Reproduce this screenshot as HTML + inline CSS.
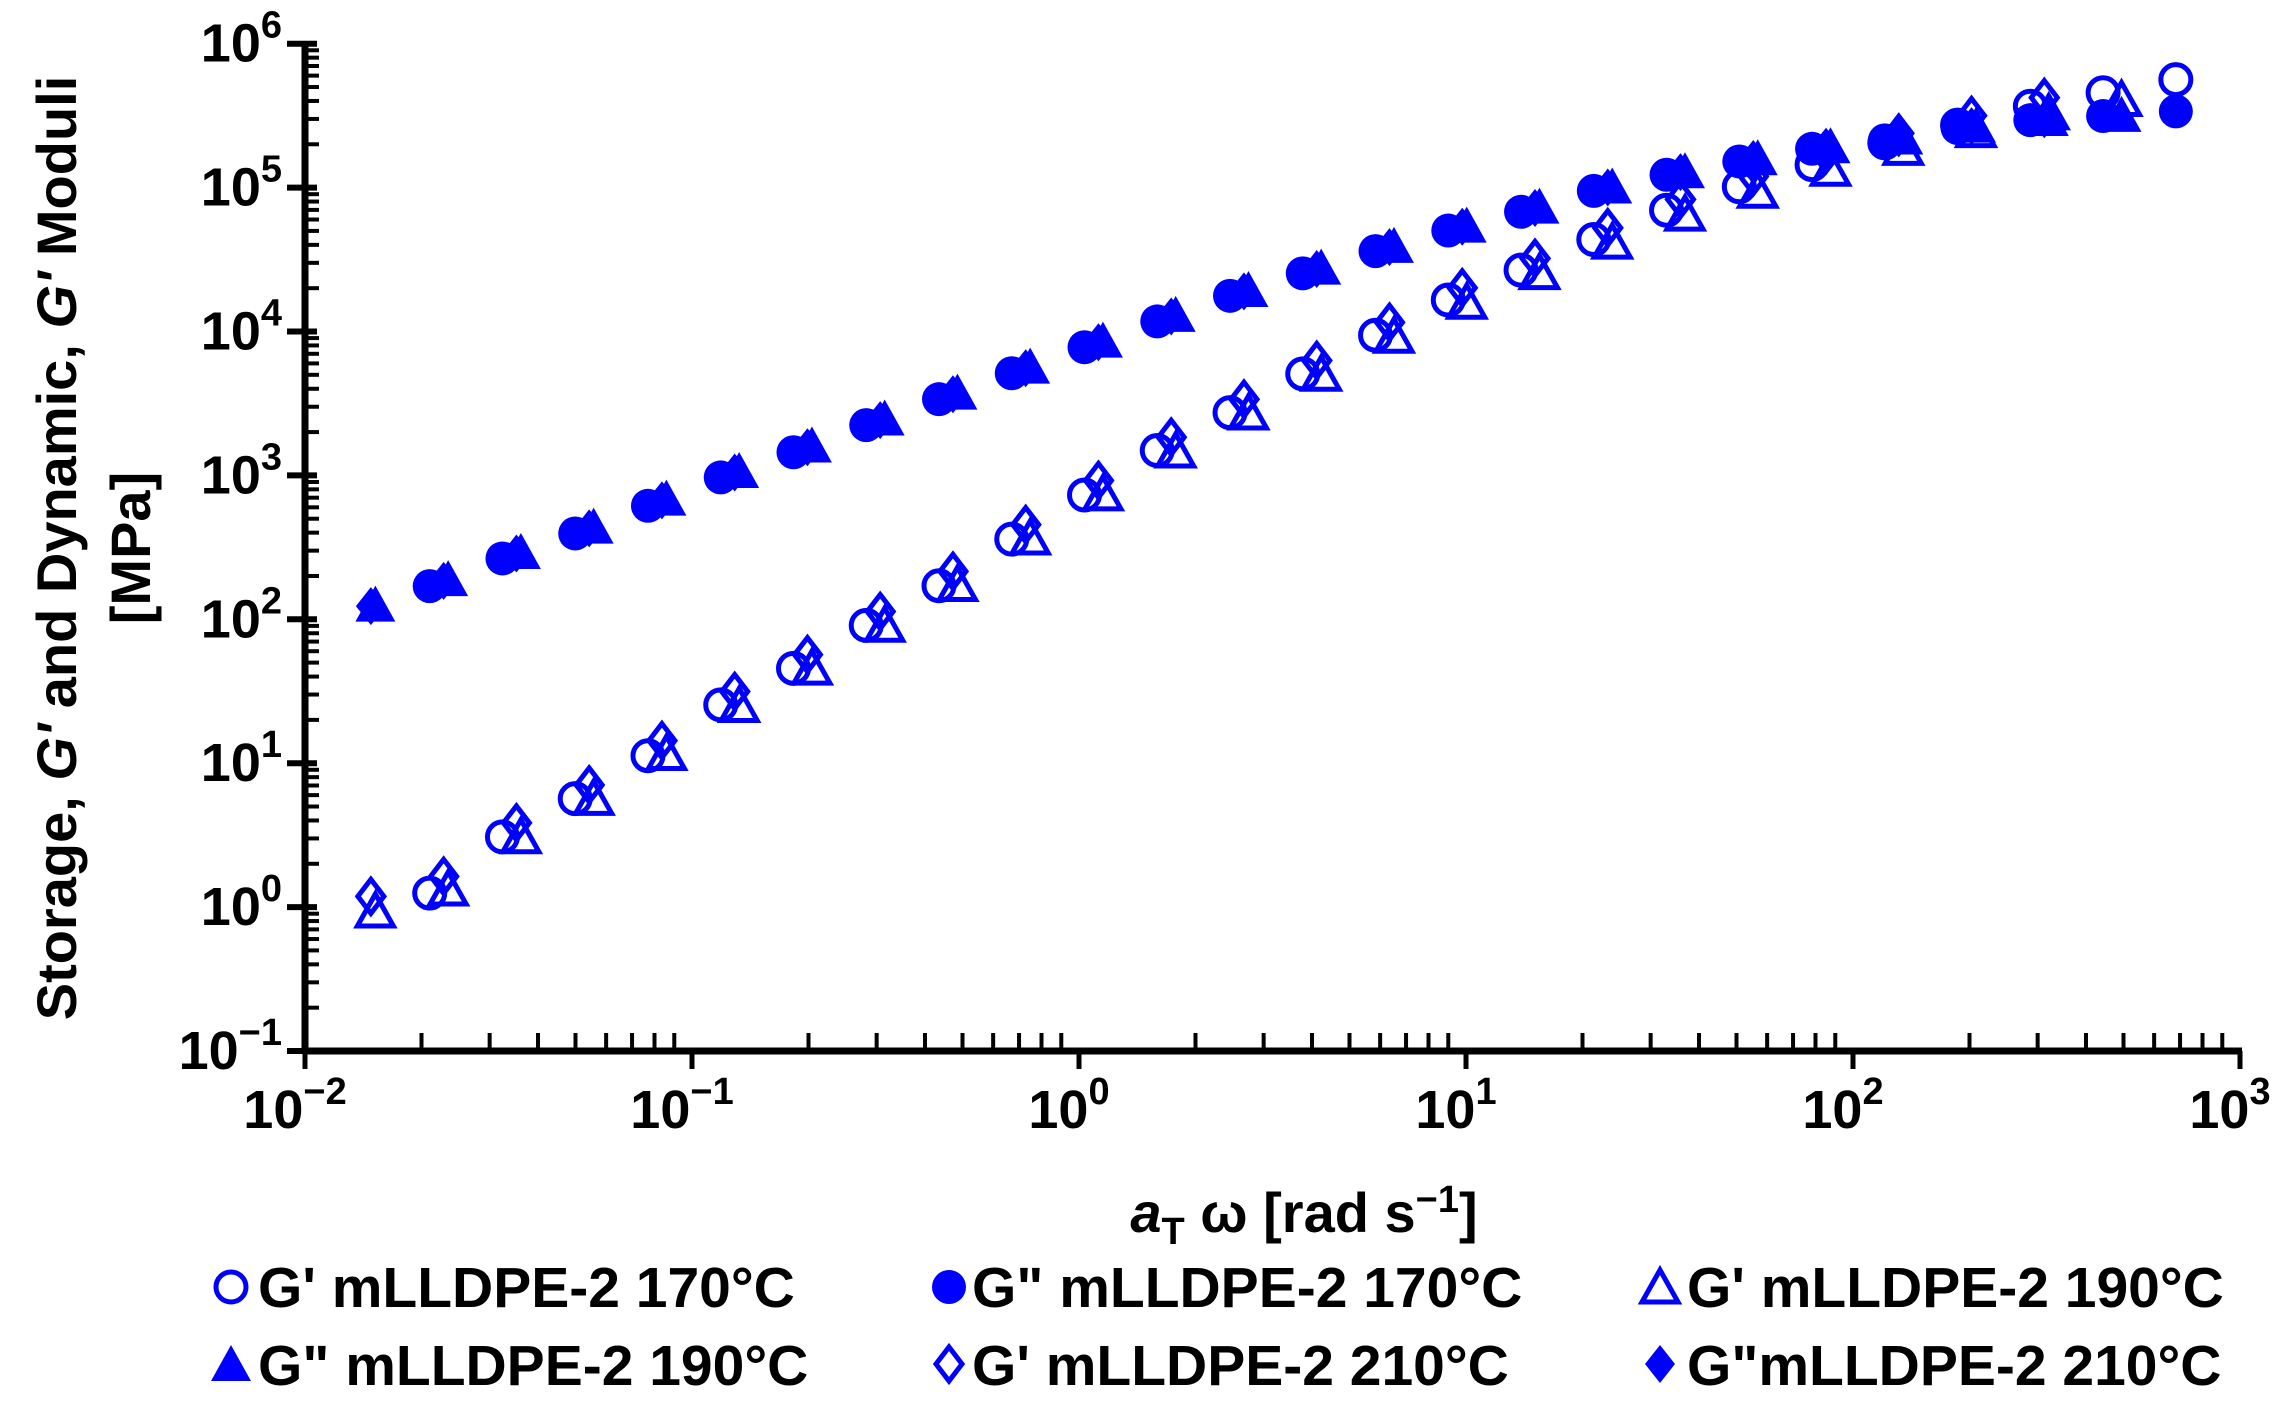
<!DOCTYPE html>
<html><head><meta charset="utf-8"><style>
html,body{margin:0;padding:0;background:#fff;}
svg{display:block;font-family:"Liberation Sans",Arial,sans-serif;font-weight:bold;}
</style></head><body>
<svg id="s" width="2292" height="1405" viewBox="0 0 2292 1405" xmlns="http://www.w3.org/2000/svg">
<g id="ax"></g><g id="data"></g>
<text transform="translate(76,548) rotate(-90)" text-anchor="middle" font-size="56">Storage, <tspan font-style="italic">G'</tspan> and Dynamic, <tspan font-style="italic">G'</tspan> Moduli</text>
<text transform="translate(150,548) rotate(-90)" text-anchor="middle" font-size="56">[MPa]</text>
<text x="1304" y="1232" text-anchor="middle" font-size="56"><tspan font-style="italic">a</tspan><tspan font-size="38" dy="12">T</tspan><tspan dy="-12"> ω [rad s</tspan><tspan font-size="38" dy="-20">−1</tspan><tspan dy="20">]</tspan></text>
<g font-size="57">
<text x="258" y="1307">G' mLLDPE-2 170°C</text>
<text x="972" y="1307">G" mLLDPE-2 170°C</text>
<text x="1687" y="1307">G' mLLDPE-2 190°C</text>
<text x="258" y="1385">G" mLLDPE-2 190°C</text>
<text x="972" y="1385">G' mLLDPE-2 210°C</text>
<text x="1687" y="1385">G"mLLDPE-2 210°C</text>
</g>
<g id="leg"></g>
</svg>
<script>
const NS="http://www.w3.org/2000/svg";
const X0=305,XD=387,Y0=1051,YD=143.9;
const px=x=>X0+(Math.log10(x)+2)*XD, py=y=>Y0-(Math.log10(y)+1)*YD;
function el(p,t,a,txt){const e=document.createElementNS(NS,t);for(const k in a)e.setAttribute(k,a[k]);if(txt!=null)e.textContent=txt;p.appendChild(e);return e;}
const ax=document.getElementById('ax');
el(ax,'line',{x1:X0,y1:Y0,x2:2242,y2:Y0,stroke:'#000','stroke-width':7});
el(ax,'line',{x1:X0,y1:Y0+3,x2:X0,y2:41,stroke:'#000','stroke-width':7});
for(let d=-2;d<=3;d++){const x=X0+(d+2)*XD;
 el(ax,'line',{x1:x,y1:Y0,x2:x,y2:Y0+18,stroke:'#000','stroke-width':5});
 const t=el(ax,'text',{x:x-10,y:1128,'text-anchor':'middle','font-size':54});
 t.textContent='10';el(t,'tspan',{dy:-24,'font-size':38},d<0?'−'+(-d):''+d);
 if(d<3)for(let m=2;m<=9;m++){const xx=x+Math.log10(m)*XD;el(ax,'line',{x1:xx,y1:Y0,x2:xx,y2:Y0-18,stroke:'#000','stroke-width':4});}
}
for(let d=-1;d<=6;d++){const y=Y0-(d+1)*YD;
 el(ax,'line',{x1:X0-18,y1:y,x2:X0+12,y2:y,stroke:'#000','stroke-width':6});
 const t=el(ax,'text',{x:282,y:y+18,'text-anchor':'end','font-size':54});
 t.textContent='10';el(t,'tspan',{dy:-24,'font-size':38},d<0?'−'+(-d):''+d);
 if(d<6)for(let m=2;m<=9;m++){const yy=y-Math.log10(m)*YD;el(ax,'line',{x1:X0,y1:yy,x2:X0+14,y2:yy,stroke:'#000','stroke-width':4});}
}
const GP=[[0.013,0.9],[0.015,1.1],[0.021,1.25],[0.033,3.2],[0.052,6],[0.08,12],[0.12,26],[0.19,48],[0.29,95],[0.45,180],[0.68,370],[1.05,750],[1.6,1500],[2.5,2800],[3.9,5300],[6,9800],[9.4,17500],[14.5,28000],[22,45000],[34,72000],[53,105000],[82,150000],[125,210000],[195,280000],[290,370000],[450,460000],[700,570000]];
const GPP=[[0.013,110],[0.015,125],[0.021,170],[0.033,270],[0.052,410],[0.08,640],[0.12,980],[0.19,1500],[0.29,2300],[0.45,3500],[0.68,5200],[1.05,7900],[1.6,11800],[2.5,18000],[3.9,26000],[6,37000],[9.4,52000],[14.5,70000],[22,97000],[34,125000],[53,155000],[82,190000],[125,215000],[195,265000],[290,295000],[450,315000],[700,340000]];
function interp(T,x){const lx=Math.log10(x);for(let i=0;i<T.length-1;i++){const a=Math.log10(T[i][0]),b=Math.log10(T[i+1][0]);if(lx<=b||i==T.length-2){const f=(lx-a)/(b-a);return Math.pow(10,Math.log10(T[i][1])+f*(Math.log10(T[i+1][1])-Math.log10(T[i][1])));}}}
const B='#0000ff';
function mk(g,type,fill,x,y){const s=fill?B:'none',sw=fill?0:5;
 if(type=='c')el(g,'circle',{cx:x,cy:y,r:fill?17:15,fill:s,stroke:B,'stroke-width':sw});
 else if(type=='t'){const h=fill?17:15;el(g,'polygon',{points:`${x},${y-h-2} ${x+h+3},${y+h} ${x-h-3},${y+h}`,fill:s,stroke:B,'stroke-width':sw});}
 else {const h=fill?19:17,w=fill?15:13;el(g,'polygon',{points:`${x},${y-h} ${x+w},${y} ${x},${y+h} ${x-w},${y}`,fill:s,stroke:B,'stroke-width':sw});}}
const g=document.getElementById('data');
const R=Math.pow(10,0.188);
const series=[['c',0,0.021,25],['c',1,0.021,25],['t',0,0.0152,25],['t',1,0.0152,25],['d',0,0.0148,24],['d',1,0.0148,24]];
series.forEach(([t,f,x0,n])=>{let x=x0;for(let k=0;k<n;k++,x*=R){let y=interp(f?GPP:GP,x);if(!f&&t=='t')y*=0.85;if(!f&&t=='d')y*=1.1;mk(g,t,f,px(x),py(y));}});
const lg=document.getElementById('leg');
mk(lg,'c',0,231,1287);mk(lg,'c',1,949,1287);mk(lg,'t',0,1660,1287);
mk(lg,'t',1,231,1364);mk(lg,'d',0,949,1364);mk(lg,'d',1,1660,1364);
</script>
</body></html>
